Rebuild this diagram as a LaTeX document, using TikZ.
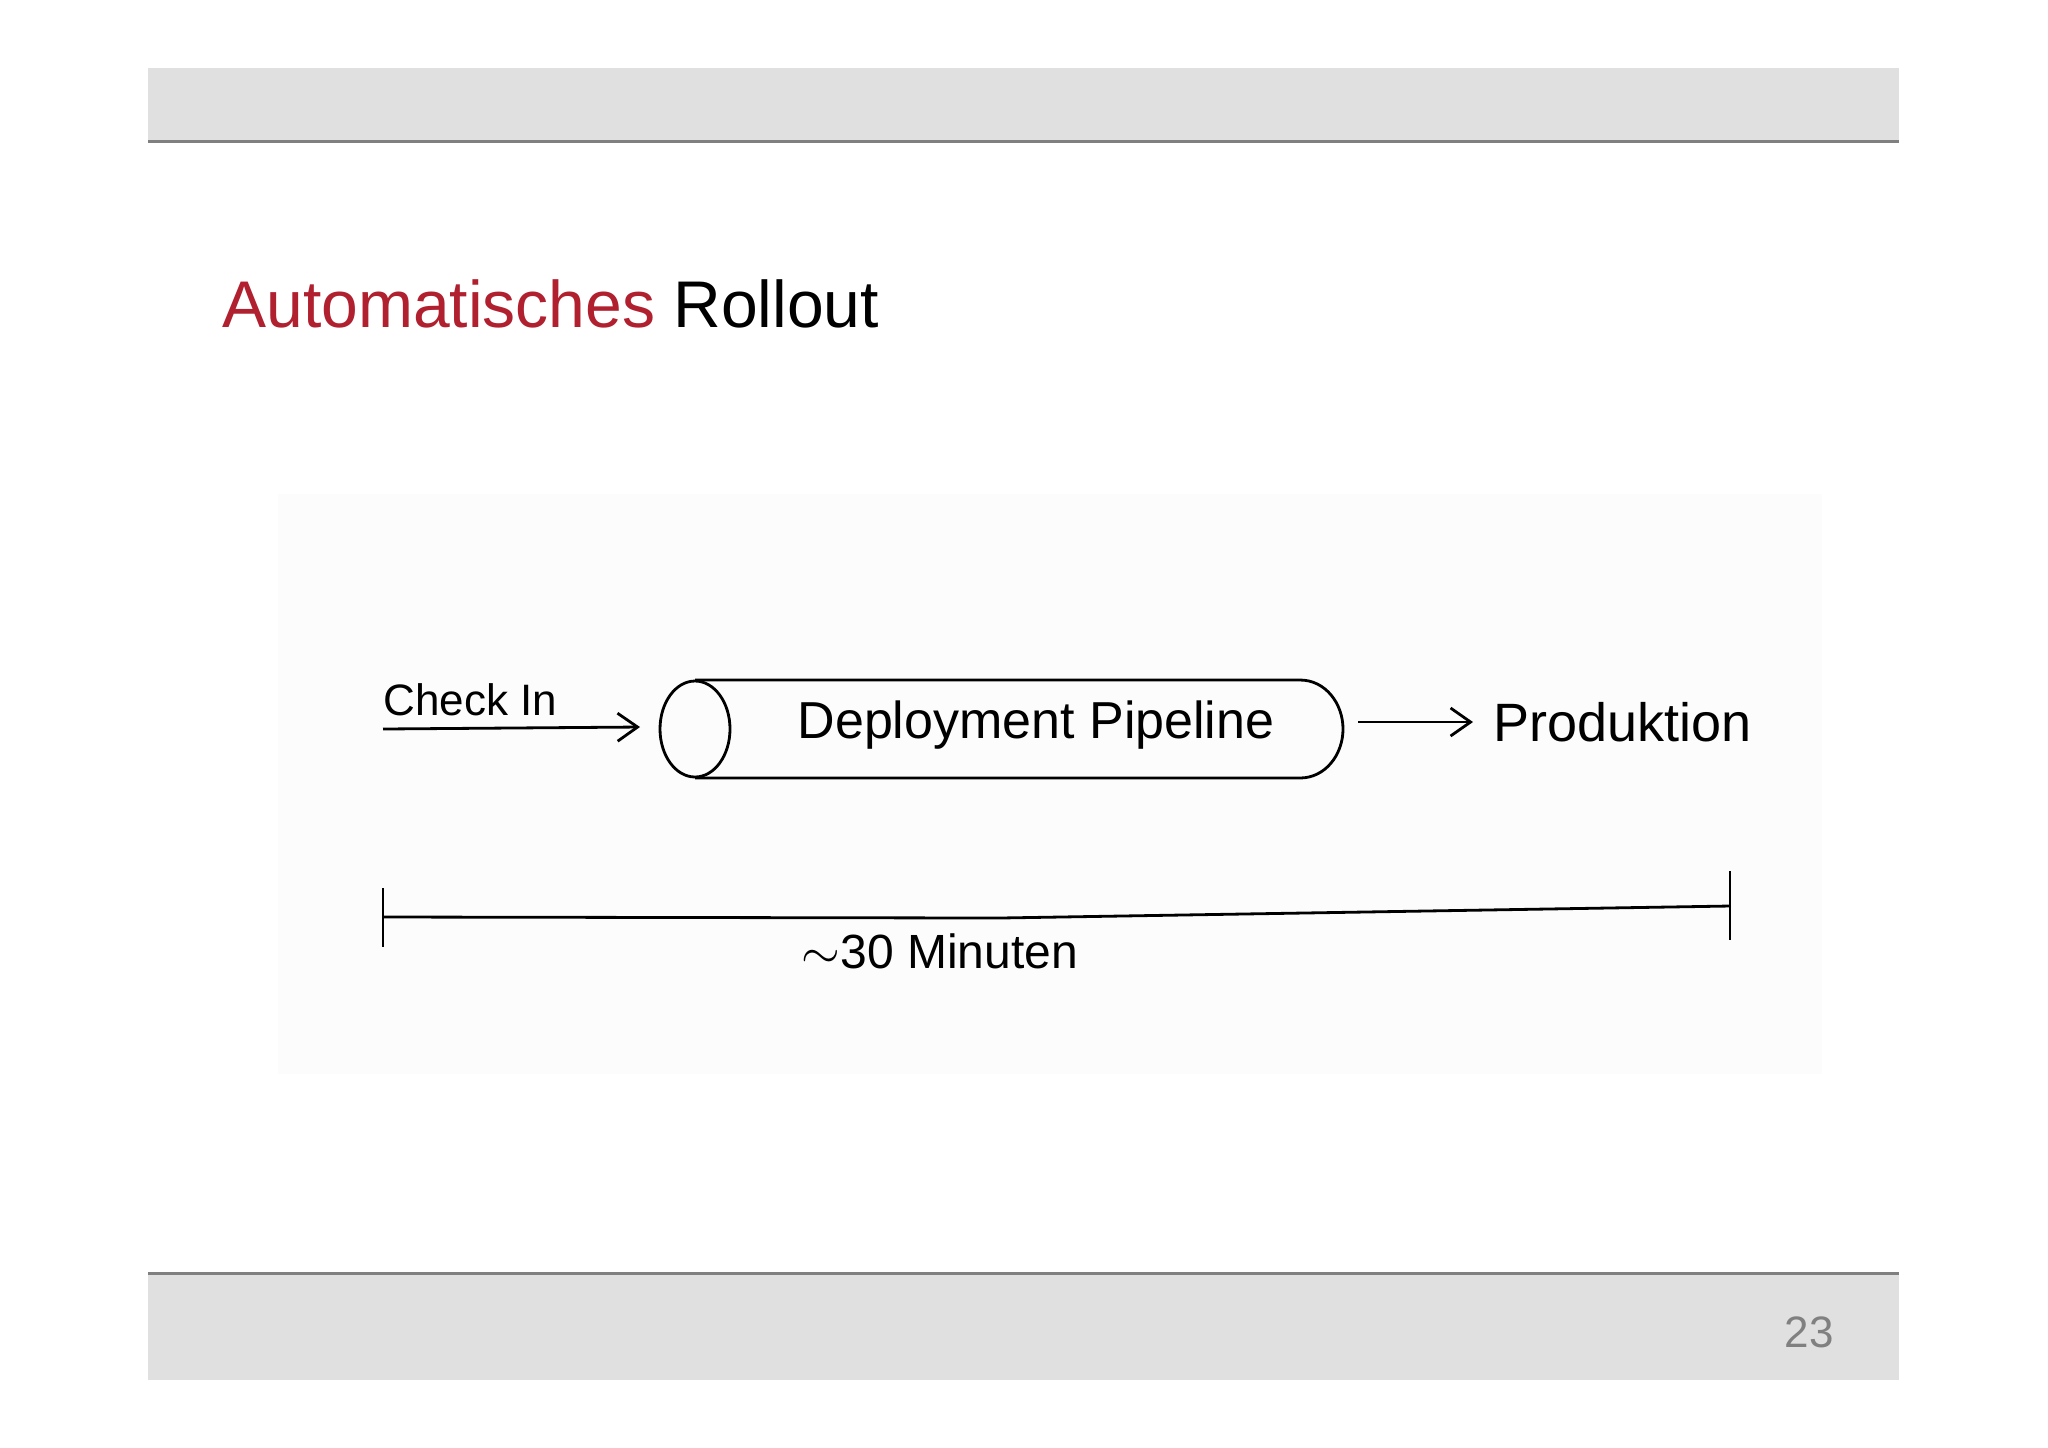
\documentclass[tikz,border=0pt]{standalone}
\usepackage{fontspec}
\setmainfont{Liberation Sans}
\usetikzlibrary{arrows.meta}
\definecolor{barg}{HTML}{E0E0E0}
\definecolor{ttlred}{HTML}{B0202F}
\begin{document}
\begin{tikzpicture}[x=0.5pt,y=-0.5pt,
  hand/.style={line width=1.4pt,black},
  harrow/.style={hand,-{Straight Barb[length=10pt,width=14pt]}},
  lbl/.style={font=\fontsize{22}{26}\selectfont}]
\useasboundingbox (0,0) rectangle (2048,1447);
\fill[white] (0,0) rectangle (2048,1447);
\fill[black!1.2] (278,494) rectangle (1822,1074);
% bars
\fill[barg] (148,68) rectangle (1899,141);
\draw[gray,line width=1.5pt] (148,141) -- (1899,141);
\fill[barg] (148,1273) rectangle (1899,1380);
\draw[gray,line width=1.5pt] (148,1273) -- (1899,1273);
\node[anchor=base west,inner sep=0,font=\fontsize{33}{38}\selectfont] (title) at (222,327) {\textcolor{ttlred}{Automatisches} Rollout};
\node[font=\fontsize{22}{26}\selectfont,text=gray] (pg) at (1809,1332) {23};
% check in
\node[lbl,anchor=base west,inner sep=0] (ci) at (383,715) {Check In};
\coordinate (cis) at (383,729);
\coordinate (cie) at (640,727);
\draw[harrow] (cis) -- (cie);
% cylinder
\draw[hand] (695,729) ellipse [x radius=35, y radius=48];
\draw[hand] (695,680) -- (1300,680) to[out=0,in=90] (1343,729) to[out=-90,in=0] (1300,778) -- (695,778);
\node[font=\fontsize{26}{30}\selectfont] (dp) at (1036,725) {Deployment Pipeline};
\coordinate (pe) at (1358,722);
\node[font=\fontsize{27}{32}\selectfont,anchor=west,inner sep=0] (prod) at (1493,722) {Produktion};
\draw[harrow] (pe) -- ([xshift=-10pt]prod.west);
% timeline
\coordinate (tl) at (383,917);
\coordinate (tr) at (1730,906);
\draw[hand] (tl) -- (1000,918) -- (tr);
\draw[hand] (383,888) -- (383,947);
\draw[hand] (1730,871) -- (1730,940);
\node[font=\fontsize{24}{28}\selectfont] (min) at (940,951) {$\sim$30 Minuten};
\end{tikzpicture}
\end{document}
